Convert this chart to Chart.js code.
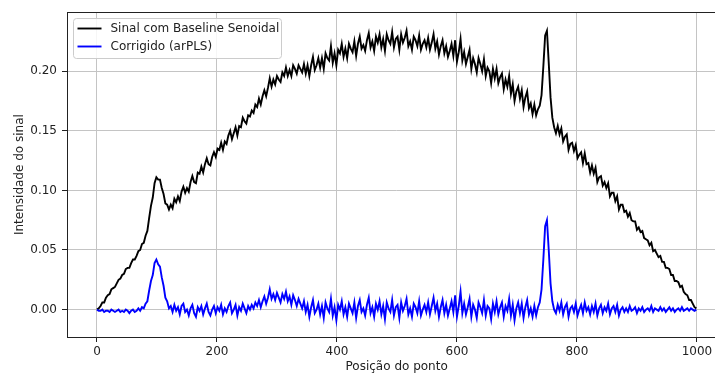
<!DOCTYPE html>
<html lang="pt">
<head>
<meta charset="utf-8">
<script src="https://cdn.jsdelivr.net/npm/chart.js@4"></script>
<style>
  html, body { margin: 0; padding: 0; background: #fff; overflow: hidden; }
  #wrap { width: 740px; height: 376px; }
</style>
</head>
<body>
<div id="wrap"><canvas id="grafico" width="740" height="376"></canvas></div>
<script>
// posição do ponto, amostrada de 3 em 3 (0 .. 999)
const passo = 3;
const posicoes = Array.from({ length: 334 }, (_, j) => j * passo);

// intensidades em milésimos (x 0.001)
// sinal com baseline senoidal
const sinalMil = [
  0, 1, 3, 6, 6, 10, 12, 13, 17, 18,
  19, 22, 25, 26, 29, 30, 34, 35, 35, 39,
  42, 42, 45, 49, 50, 55, 56, 62, 66, 77,
  87, 94, 106, 111, 109, 109, 102, 97, 89, 88,
  84, 88, 85, 93, 90, 95, 91, 99, 103, 98,
  102, 99, 107, 112, 107, 106, 115, 114, 120, 115,
  122, 127, 122, 121, 128, 132, 128, 135, 134, 140,
  134, 141, 139, 146, 150, 143, 148, 153, 146, 154,
  153, 161, 158, 156, 163, 162, 167, 165, 172, 170,
  177, 172, 179, 184, 179, 186, 194, 187, 193, 189,
  196, 193, 191, 199, 196, 203, 196, 201, 196, 205,
  202, 198, 205, 202, 199, 206, 198, 205, 196, 205,
  212, 201, 205, 211, 203, 211, 202, 215, 211, 209,
  221, 207, 215, 205, 218, 215, 223, 212, 219, 211,
  223, 219, 216, 225, 213, 223, 229, 219, 222, 217,
  226, 232, 220, 225, 217, 229, 224, 231, 220, 227,
  217, 231, 226, 223, 233, 220, 227, 229, 218, 231,
  224, 228, 234, 221, 225, 218, 229, 226, 221, 230,
  218, 223, 226, 220, 228, 218, 224, 231, 219, 225,
  214, 221, 226, 215, 221, 212, 217, 223, 213, 226,
  208, 216, 227, 209, 216, 206, 212, 218, 202, 211,
  206, 199, 211, 206, 200, 210, 196, 203, 200, 190,
  202, 194, 202, 190, 195, 198, 185, 193, 187, 196,
  181, 189, 175, 183, 187, 177, 184, 170, 178, 183,
  169, 173, 164, 172, 163, 168, 171, 180, 204, 230,
  234, 207, 178, 161, 153, 148, 154, 147, 152, 141,
  145, 147, 134, 139, 140, 133, 138, 127, 130, 132,
  123, 131, 122, 123, 115, 121, 114, 119, 107, 111,
  112, 104, 107, 102, 106, 95, 98, 98, 91, 95,
  84, 88, 88, 82, 83, 78, 81, 75, 74, 74,
  67, 69, 65, 66, 60, 59, 58, 54, 56, 49,
  50, 47, 44, 45, 40, 40, 35, 35, 34, 29,
  29, 24, 24, 23, 19, 20, 15, 13, 12, 8,
  8, 5, 2, 1
];

// sinal corrigido pelo arPLS
const corrigidoMil = [
  0, -1, -1, 0, -2, -1, -1, -2, 0, -1,
  -2, -1, 0, -2, -1, -2, 0, -1, -3, -1,
  0, -2, -1, 1, -1, 2, 1, 5, 7, 16,
  24, 29, 39, 42, 38, 36, 27, 20, 10, 7,
  1, 3, -2, 4, -1, 2, -4, 3, 5, -2,
  0, -5, 1, 4, -3, -6, 2, -1, 3, -4,
  1, 5, -2, -5, 0, 3, -3, 2, -1, 4,
  -4, 1, -2, 3, 6, -3, 0, 4, -5, 2,
  -1, 5, 1, -3, 3, 0, 4, 1, 6, 3,
  8, 2, 7, 11, 5, 10, 17, 9, 13, 8,
  14, 10, 6, 13, 9, 15, 7, 11, 4, 12,
  8, 3, 9, 5, 1, 7, -2, 4, -6, 2,
  8, -3, 0, 5, -4, 3, -7, 6, 1, -2,
  9, -5, 2, -9, 4, 0, 7, -4, 2, -6,
  5, 1, -3, 6, -7, 3, 8, -2, 1, -5,
  4, 10, -3, 2, -6, 5, 0, 7, -4, 3,
  -8, 6, 1, -2, 8, -5, 2, 4, -7, 6,
  -1, 3, 9, -4, 1, -6, 5, 2, -3, 7,
  -5, 0, 4, -2, 6, -4, 3, 10, -1, 5,
  -6, 2, 8, -3, 4, -5, 1, 7, -2, 12,
  -6, 3, 15, -3, 5, -4, 2, 9, -6, 4,
  0, -7, 6, 2, -3, 8, -5, 3, 1, -8,
  5, -2, 7, -4, 2, 6, -6, 3, -1, 9,
  -5, 4, -9, 1, 6, -3, 5, -7, 2, 8,
  -4, 1, -6, 3, -5, 2, 6, 17, 42, 70,
  75, 50, 22, 7, 0, -3, 4, -1, 6, -4,
  2, 5, -6, 1, 3, -2, 5, -5, 0, 4,
  -3, 6, -1, 2, -4, 3, -2, 5, -5, 1,
  4, -3, 2, -1, 5, -4, 1, 3, -2, 4,
  -5, 0, 2, -2, 1, -2, 3, -1, 0, 2,
  -3, 1, -1, 2, -2, 0, 1, -1, 3, -2,
  1, 0, -1, 2, -1, 1, -2, 0, 2, -1,
  1, -2, 0, 1, -1, 2, -1, 0, 1, -1,
  1, 0, -1, 0
];

const ticksX = [0, 200, 400, 600, 800, 1000];
const ticksY = [0, 0.05, 0.10, 0.15, 0.20];

Chart.defaults.font.family = "'DejaVu Sans', sans-serif";
Chart.defaults.font.size = 12;
Chart.defaults.color = '#222';

const pontos = (ys) => posicoes.map((x, i) => ({ x, y: ys[i] / 1000 }));

// moldura dos eixos (os quatro lados)
const moldura = {
  id: 'moldura',
  afterDatasetsDraw(chart) {
    const { ctx, chartArea: a } = chart;
    const l = Math.round(a.left) + 0.5, t = Math.round(a.top) + 0.5;
    const r = Math.round(a.right) + 0.5, b = Math.round(a.bottom) + 0.5;
    ctx.save();
    ctx.strokeStyle = '#222';
    ctx.lineWidth = 1;
    ctx.strokeRect(l, t, r - l, b - t);
    ctx.restore();
  }
};

// legenda dentro da área do gráfico, canto superior esquerdo
const legendaInterna = {
  id: 'legendaInterna',
  afterDraw(chart) {
    const { ctx, chartArea: a } = chart;
    const x = Math.round(a.left) + 6.5, y = Math.round(a.top) + 6.5;
    const w = 208, h = 40;
    ctx.save();
    ctx.beginPath();
    ctx.roundRect(x, y, w, h, 3);
    ctx.fillStyle = 'rgba(255,255,255,0.85)';
    ctx.fill();
    ctx.strokeStyle = '#cccccc';
    ctx.lineWidth = 1;
    ctx.stroke();
    ctx.font = "12px 'DejaVu Sans', sans-serif";
    ctx.textBaseline = 'middle';
    chart.data.datasets.forEach((ds, i) => {
      const ly = y + 10 + i * 18;
      ctx.beginPath();
      ctx.moveTo(x + 4, ly);
      ctx.lineTo(x + 28, ly);
      ctx.strokeStyle = ds.borderColor;
      ctx.lineWidth = 1.9;
      ctx.stroke();
      ctx.fillStyle = '#222';
      ctx.fillText(ds.label, x + 37, ly);
    });
    ctx.restore();
  }
};

new Chart(document.getElementById('grafico'), {
  type: 'line',
  data: {
    datasets: [
      {
        label: 'Sinal com Baseline Senoidal',
        data: pontos(sinalMil),
        borderColor: '#000000',
        borderWidth: 1.9,
        order: 1
      },
      {
        label: 'Corrigido (arPLS)',
        data: pontos(corrigidoMil),
        borderColor: '#0000ff',
        borderWidth: 1.9,
        order: 0
      }
    ]
  },
  options: {
    responsive: false,
    animation: false,
    devicePixelRatio: 1,
    layout: { padding: { left: 0, top: 8, right: 13.7, bottom: 0 } },
    elements: { point: { radius: 0 }, line: { tension: 0 } },
    plugins: { legend: { display: false }, tooltip: { enabled: false } },
    scales: {
      x: {
        type: 'linear',
        min: -49.95,
        max: 1048.95,
        afterBuildTicks: (s) => { s.ticks = ticksX.map(v => ({ value: v })); },
        afterFit: (s) => { s.height = 39; },
        ticks: { padding: 3, maxRotation: 0, callback: (v) => String(v) },
        grid: { color: '#c4c4c4', lineWidth: 1, tickLength: 5, tickColor: '#222' },
        border: { display: false },
        title: { display: true, text: 'Posição do ponto', padding: { top: 0, bottom: 2 } }
      },
      y: {
        min: -0.023,
        max: 0.2495,
        afterBuildTicks: (s) => { s.ticks = ticksY.map(v => ({ value: v })); },
        afterFit: (s) => { s.width = 67; },
        ticks: { padding: 5, callback: (v) => v.toFixed(2) },
        grid: { color: '#c4c4c4', lineWidth: 1, tickLength: 5, tickColor: '#222' },
        border: { display: false },
        title: { display: true, text: 'Intensidade do sinal', padding: { top: 13, bottom: 0 } }
      }
    }
  },
  plugins: [moldura, legendaInterna]
});
</script>
</body>
</html>
